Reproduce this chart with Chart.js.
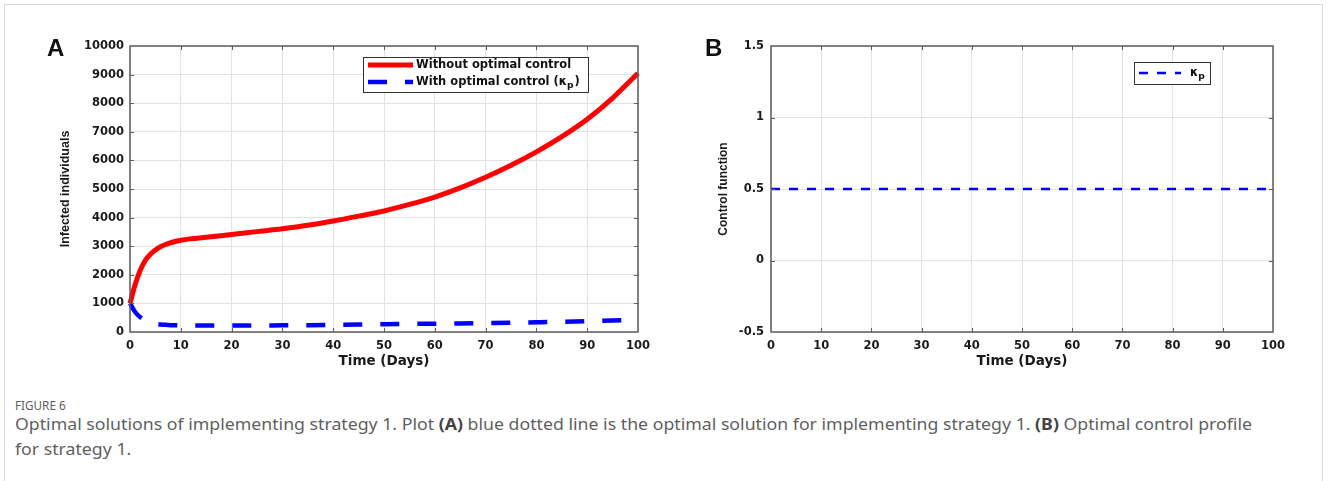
<!DOCTYPE html>
<html>
<head>
<meta charset="utf-8">
<script src="https://cdn.jsdelivr.net/npm/chart.js@4.4.1/dist/chart.umd.min.js"></script>
<style>
  html, body { margin:0; padding:0; background:#fff; }
  body { width:1328px; height:481px; position:relative; overflow:hidden; }
  #frame { position:absolute; left:4px; top:4px; width:1317px; height:500px; border:1px solid #d9d9d9; }
  canvas { position:absolute; top:0; }
  #cA { left:0; }
  #cB { left:664px; }
  .panel { position:absolute; font-family:"Liberation Sans", Arial, sans-serif; font-weight:bold; font-size:24px; color:#111; line-height:1; }
  #capTitle { position:absolute; left:15px; top:396px; font-family:"Noto Sans", sans-serif; font-size:13px; color:#606060; white-space:nowrap; transform-origin:0 0; transform:scaleX(0.9); }
  .cap { position:absolute; left:15px; font-family:"Noto Sans", sans-serif; font-size:16.5px; color:#5f5f5f; white-space:nowrap; transform-origin:0 0; }
  .cap b { color:#444; }
</style>
</head>
<body>
<div id="frame"></div>
<canvas id="cA" width="664" height="381"></canvas>
<canvas id="cB" width="664" height="381"></canvas>
<div class="panel" style="left:47px;top:36px;">A</div>
<div class="panel" style="left:705px;top:36px;">B</div>
<div id="capTitle">FIGURE 6</div>
<div class="cap" id="cap1" style="top:412px;">Optimal solutions of implementing strategy 1. Plot <b>(A)</b> blue dotted line is the optimal solution for implementing strategy 1. <b>(B)</b> Optimal control profile</div>
<div class="cap" id="cap2" style="top:437px;">for strategy 1.</div>
<script>
// ---------------- data ----------------
const days = [0,1,2,3,4,5,6,7,8,10,12,15,20,25,30,35,40,45,50,55,60,65,70,75,80,85,90,95,100];
const infectedWithout = [1000,1650,2150,2500,2720,2870,2980,3060,3120,3210,3260,3310,3410,3510,3610,3730,3880,4050,4230,4460,4720,5040,5410,5830,6300,6830,7440,8180,9050];
const infectedWith = [1000,700,520,400,330,290,265,250,240,230,226,224,225,228,232,240,250,262,270,282,292,300,312,325,340,355,375,405,425];
const controlDays = [0,100];
const controlKappa = [0.5,0.5];
const labelsA = ['Without optimal control', 'With optimal control (\u03BA_{p})'];
const labelsB = ['\u03BA_{p}'];
const xLabel = 'Time (Days)';
const yLabelA = 'Infected individuals';
const yLabelB = 'Control function';

// ---------------- helpers ----------------
const pts = (xs, ys) => xs.map((x, i) => ({x, y: ys[i]}));
const tickFont = {family:'"DejaVu Sans", sans-serif', weight:'bold', size:11.5};
const AXIS_COL = '#5c5c5c';
const GRID_COL = '#e2e2e2';

const framePlugin = {
  id: 'frame',
  afterDatasetsDraw(chart) {
    const {ctx, chartArea: a, scales} = chart;
    ctx.save();
    ctx.strokeStyle = AXIS_COL;
    ctx.lineWidth = 1.5;
    ctx.strokeRect(a.left, a.top, a.right - a.left, a.bottom - a.top);
    ctx.lineWidth = 1;
    const L = 4;
    scales.x.ticks.forEach(t => {
      const p = Math.round(scales.x.getPixelForValue(t.value)) + 0.5;
      if (p <= a.left + 1 || p >= a.right - 1) return;
      ctx.beginPath();
      ctx.moveTo(p, a.bottom); ctx.lineTo(p, a.bottom - L);
      ctx.moveTo(p, a.top); ctx.lineTo(p, a.top + L);
      ctx.stroke();
    });
    scales.y.ticks.forEach(t => {
      const p = Math.round(scales.y.getPixelForValue(t.value)) + 0.5;
      if (p <= a.top + 1 || p >= a.bottom - 1) return;
      ctx.beginPath();
      ctx.moveTo(a.left, p); ctx.lineTo(a.left + L, p);
      ctx.moveTo(a.right, p); ctx.lineTo(a.right - L, p);
      ctx.stroke();
    });
    ctx.restore();
  }
};

function drawLabel(ctx, text, x, y, size) {
  const parts = text.split(/_\{([^}]*)\}/);
  let cx = x;
  parts.forEach((part, i) => {
    if (!part) return;
    const sub = i % 2 === 1;
    ctx.font = 'bold ' + (sub ? size * 0.8 : size) + 'px "DejaVu Sans", sans-serif';
    ctx.fillText(part, cx, sub ? y + size * 0.3 : y);
    cx += ctx.measureText(part).width + (sub ? 1 : 0);
  });
}

const boxLegendPlugin = {
  id: 'boxLegend',
  afterDraw(chart, args, opts) {
    if (!opts || !opts.box) return;
    const {ctx} = chart;
    const b = opts.box;
    ctx.save();
    ctx.fillStyle = '#fff';
    ctx.fillRect(b.x, b.y, b.w, b.h);
    ctx.strokeStyle = '#333';
    ctx.lineWidth = 1;
    ctx.strokeRect(b.x + 0.5, b.y + 0.5, b.w, b.h);
    chart.data.datasets.forEach((ds, i) => {
      const y = b.y + opts.rowY[i];
      ctx.strokeStyle = ds.borderColor;
      ctx.lineWidth = ds.borderWidth;
      ctx.setLineDash(ds.borderDash || []);
      ctx.lineCap = 'butt';
      ctx.beginPath();
      ctx.moveTo(b.x + opts.sampleX0, y);
      ctx.lineTo(b.x + opts.sampleX1, y);
      ctx.stroke();
      ctx.setLineDash([]);
      ctx.fillStyle = '#111';
      ctx.textBaseline = 'middle';
      ctx.textAlign = 'left';
      drawLabel(ctx, ds.label, b.x + opts.textX, y, opts.fontSize);
    });
    ctx.restore();
  }
};

function makeOptions(cfg) {
  return {
    responsive: false,
    animation: false,
    devicePixelRatio: 1,
    layout: {padding: {top: 46, right: cfg.padRight, left: 0, bottom: 0}},
    plugins: {
      legend: {display: false},
      tooltip: {enabled: false},
      boxLegend: cfg.legend
    },
    scales: {
      x: {
        type: 'linear', min: 0, max: 100,
        ticks: {stepSize: 10, font: tickFont, color: '#1a1a1a', padding: 7, maxRotation: 0,
                callback: v => String(v)},
        grid: {color: GRID_COL, lineWidth: 1, drawTicks: false},
        border: {display: false},
        title: {display: true, text: xLabel, color: '#1a1a1a',
                font: {family:'"DejaVu Sans", sans-serif', weight:'bold', size:13.5},
                padding: {top: 0, bottom: 11}},
        afterFit(s) { s.height = 49; }
      },
      y: {
        type: 'linear', min: cfg.yMin, max: cfg.yMax,
        ticks: {stepSize: cfg.yStep, font: tickFont, color: '#1a1a1a', padding: cfg.yTickPad,
                callback: v => String(v)},
        grid: {color: GRID_COL, lineWidth: 1, drawTicks: false},
        border: {display: false},
        title: {display: true, text: cfg.yTitle, color: '#1a1a1a',
                font: {family:'"Liberation Sans", Arial, sans-serif', weight:'bold', size: cfg.yTitleSize},
                padding: {top: cfg.yTitlePad, bottom: 0}},
        afterFit(s) { s.width = cfg.yWidth; }
      }
    }
  };
}

new Chart(document.getElementById('cA'), {
  type: 'line',
  data: {
    datasets: [
      {label: labelsA[0], data: pts(days, infectedWithout), borderColor: '#ff0000', borderWidth: 5,
       pointRadius: 0, cubicInterpolationMode: 'monotone', clip: false, fill: false},
      {label: labelsA[1], data: pts(days, infectedWith), borderColor: '#0000ff', borderWidth: 4.5,
       borderDash: [19, 18], pointRadius: 0, cubicInterpolationMode: 'monotone', clip: false, fill: false}
    ]
  },
  options: makeOptions({
    padRight: 26, yMin: 0, yMax: 10000, yStep: 1000, yWidth: 130, yTickPad: 6,
    yTitle: yLabelA, yTitleSize: 12.5, yTitlePad: 58,
    legend: {box: {x: 363, y: 57, w: 225, h: 35}, rowY: [8, 25], sampleX0: 5, sampleX1: 50, textX: 53, fontSize: 11.5}
  }),
  plugins: [framePlugin, boxLegendPlugin]
});

new Chart(document.getElementById('cB'), {
  type: 'line',
  data: {
    datasets: [
      {label: labelsB[0], data: pts(controlDays, controlKappa), borderColor: '#0000ff', borderWidth: 2.5,
       borderDash: [9, 9], pointRadius: 0, fill: false}
    ]
  },
  options: makeOptions({
    padRight: 55, yMin: -0.5, yMax: 1.5, yStep: 0.5, yWidth: 107, yTickPad: 7,
    yTitle: yLabelB, yTitleSize: 12, yTitlePad: 52,
    legend: {box: {x: 470, y: 62, w: 76, h: 22}, rowY: [11], sampleX0: 5, sampleX1: 47, textX: 56, fontSize: 11.5}
  }),
  plugins: [framePlugin, boxLegendPlugin]
});

// fit caption line width to the reference
(function () {
  const c1 = document.getElementById('cap1');
  const c2 = document.getElementById('cap2');
  const w = c1.getBoundingClientRect().width;
  const s = 1237 / w;
  c1.style.transform = 'scaleX(' + s + ')';
  c2.style.transform = 'scaleX(' + s + ')';
})();
</script>
</body>
</html>
